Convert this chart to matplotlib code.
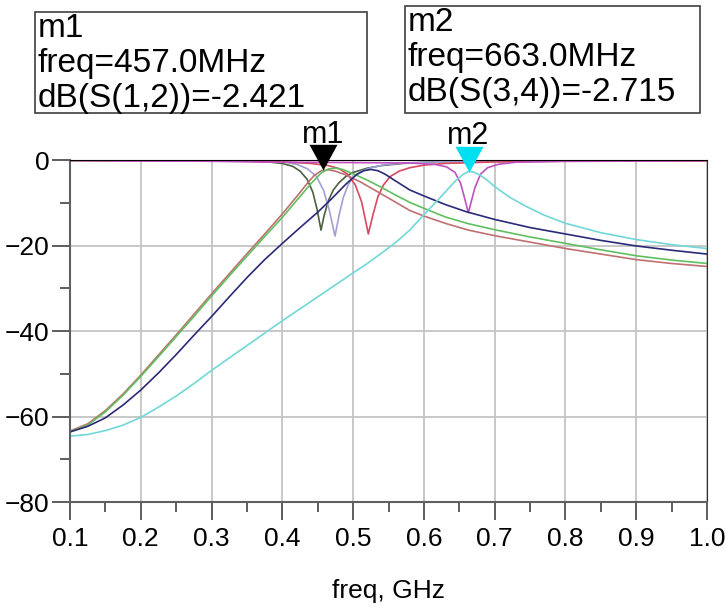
import matplotlib.pyplot as plt
from matplotlib.ticker import MultipleLocator
from matplotlib.patches import Rectangle

plt.rcParams['font.family'] = ['Liberation Sans', 'DejaVu Sans']

# transmission curves (dB vs GHz)
brown_f = [0.10, 0.125, 0.15, 0.175, 0.20, 0.225, 0.25, 0.275, 0.30, 0.325, 0.35, 0.375, 0.40,
           0.42, 0.435, 0.445, 0.455, 0.465, 0.475, 0.49, 0.51, 0.53, 0.55, 0.58, 0.60, 0.63,
           0.663, 0.70, 0.75, 0.80, 0.85, 0.90, 0.95, 1.00]
brown_db = [-63.4, -61.7, -58.6, -54.7, -50.3, -45.6, -40.9, -36.1, -31.3, -26.6, -21.9, -17.3, -12.6,
            -8.6, -5.5, -3.6, -2.5, -2.3, -2.6, -3.5, -5.1, -7.0, -8.9, -11.8, -13.1, -14.8,
            -16.4, -17.7, -19.2, -20.7, -22.0, -23.3, -24.2, -24.9]

green_f = [0.10, 0.125, 0.15, 0.175, 0.20, 0.225, 0.25, 0.275, 0.30, 0.325, 0.35, 0.375, 0.40,
           0.42, 0.44, 0.455, 0.465, 0.475, 0.485, 0.50, 0.52, 0.54, 0.56, 0.58, 0.60, 0.63,
           0.663, 0.70, 0.75, 0.80, 0.85, 0.90, 0.95, 1.00]
green_db = [-63.6, -62.0, -58.9, -55.0, -50.6, -46.0, -41.3, -36.6, -31.8, -27.1, -22.5, -17.9, -13.4,
            -9.5, -5.6, -3.0, -2.1, -1.9, -2.2, -3.2, -4.7, -6.4, -8.2, -9.9, -11.3, -13.3,
            -14.9, -16.3, -18.0, -19.5, -21.0, -22.4, -23.4, -24.2]

navy_f = [0.10, 0.125, 0.15, 0.175, 0.20, 0.225, 0.25, 0.275, 0.30, 0.325, 0.35, 0.375, 0.40,
          0.425, 0.45, 0.47, 0.49, 0.505, 0.515, 0.525, 0.535, 0.545, 0.56, 0.58, 0.60, 0.63,
          0.66, 0.70, 0.75, 0.80, 0.85, 0.90, 0.95, 1.00]
navy_db = [-63.6, -62.3, -60.3, -57.3, -53.8, -49.8, -45.5, -41.0, -36.6, -32.0, -27.5, -23.3, -19.5,
           -15.8, -12.2, -9.0, -5.6, -3.4, -2.5, -2.2, -2.5, -3.3, -4.9, -7.0, -8.4, -10.4,
           -12.1, -13.9, -15.8, -17.3, -18.8, -20.1, -21.1, -22.0]

cyan_f = [0.10, 0.125, 0.15, 0.175, 0.20, 0.225, 0.25, 0.275, 0.30, 0.325, 0.35, 0.375, 0.40,
          0.425, 0.45, 0.475, 0.50, 0.52, 0.54, 0.56, 0.58, 0.60, 0.62, 0.635, 0.645, 0.655,
          0.663, 0.67, 0.68, 0.69, 0.70, 0.72, 0.745, 0.77, 0.80, 0.85, 0.90, 0.95, 1.00]
cyan_db = [-64.6, -64.2, -63.3, -62.0, -60.2, -57.8, -55.2, -52.3, -49.2, -46.3, -43.4, -40.5, -37.6,
           -34.8, -32.0, -29.2, -26.4, -24.2, -21.8, -19.3, -16.4, -12.8, -9.3, -6.6, -4.8, -3.4,
           -2.7, -2.8, -3.6, -4.8, -6.2, -8.6, -10.9, -12.9, -14.8, -17.0, -18.6, -19.8, -20.7]

# reflection curves
olive_f = [0.10, 0.30, 0.35, 0.38, 0.40, 0.415, 0.425, 0.435, 0.443, 0.449, 0.4546, 0.459, 0.465,
           0.472, 0.48, 0.49, 0.50, 0.52, 0.54, 0.57, 0.62, 0.70, 1.00]
olive_db = [-0.1, -0.15, -0.25, -0.45, -0.8, -1.5, -2.6, -4.5, -7.5, -11.5, -16.4, -13.0, -9.5,
            -7.0, -5.3, -3.8, -2.9, -1.9, -1.3, -0.8, -0.4, -0.25, -0.15]

lav_f = [0.10, 0.35, 0.40, 0.42, 0.435, 0.448, 0.458, 0.466, 0.4744, 0.480, 0.486, 0.493, 0.50,
         0.51, 0.525, 0.545, 0.57, 0.62, 1.00]
lav_db = [-0.1, -0.2, -0.4, -1.0, -2.0, -3.8, -7.0, -11.5, -17.8, -13.0, -8.8, -5.8, -4.0,
          -2.7, -1.8, -1.1, -0.7, -0.4, -0.2]

red_f = [0.10, 0.30, 0.40, 0.44, 0.465, 0.48, 0.492, 0.503, 0.512, 0.5215, 0.528, 0.535, 0.543,
         0.552, 0.565, 0.58, 0.60, 0.63, 0.70, 0.80, 1.00]
red_db = [-0.1, -0.2, -0.45, -0.8, -1.3, -2.0, -3.3, -5.8, -9.8, -17.3, -12.8, -8.6, -5.8,
          -3.9, -2.6, -1.8, -1.2, -0.8, -0.45, -0.3, -0.2]

mag_f = [0.10, 0.30, 0.40, 0.50, 0.58, 0.615, 0.632, 0.644, 0.652, 0.6628, 0.672, 0.68, 0.69,
         0.705, 0.73, 0.80, 1.00]
mag_db = [-0.1, -0.3, -0.5, -0.6, -0.7, -1.0, -1.6, -2.9, -5.5, -12.3, -6.5, -3.3, -1.8,
          -1.0, -0.5, -0.25, -0.15]

m1 = (0.457, -2.421)
m2 = (0.663, -2.715)
m1_text = 'm1\nfreq=457.0MHz\ndB(S(1,2))=-2.421'
m2_text = 'm2\nfreq=663.0MHz\ndB(S(3,4))=-2.715'

fig = plt.figure(figsize=(7.25, 6.08), dpi=100)
ax = fig.add_axes([0.0966, 0.1743, 0.8786, 0.5625])

lw = 1.2
ax.plot(olive_f, olive_db, color='#4a6040', lw=lw)
ax.plot(lav_f, lav_db, color='#a0a0d8', lw=lw)
ax.plot(red_f, red_db, color='#d84860', lw=lw)
ax.plot(mag_f, mag_db, color='#c050c0', lw=lw)
ax.plot(brown_f, brown_db, color='#c07070', lw=lw)
ax.plot(green_f, green_db, color='#60c060', lw=lw)
ax.plot(navy_f, navy_db, color='#2a2a78', lw=lw)
ax.plot(cyan_f, cyan_db, color='#70d8d8', lw=lw)

# marker triangles with the tip on the point
tri = [(-12, 22), (12, 22), (0, 0)]
ax.plot(*m1, marker=tri, ms=37, color='black', mew=0, clip_on=False, zorder=5)
ax.plot(*m2, marker=tri, ms=37, color='#00e0f0', mew=0, clip_on=False, zorder=5)
for m, name in [(m1, 'm1'), (m2, 'm2')]:
    ax.annotate(name, xy=m, xytext=(0, 20), textcoords='offset points',
                ha='center', va='baseline', fontsize=22)

ax.set_xlim(0.1, 1.0)
ax.set_ylim(-80, 0)
ax.xaxis.set_major_locator(MultipleLocator(0.1))
ax.xaxis.set_minor_locator(MultipleLocator(0.05))
ax.yaxis.set_major_locator(MultipleLocator(20))
ax.yaxis.set_minor_locator(MultipleLocator(10))
ax.set_xticklabels([f'{v:.1f}' for v in ax.get_xticks()])
ax.grid(True, which='major', color='#c4c4c4', lw=1.3)
ax.tick_params(which='major', direction='out', length=13, width=1.3, color='#505050',
               labelsize=19, pad=2)
ax.tick_params(which='minor', direction='out', length=7, width=1.3, color='#505050')
ax.tick_params(axis='x', which='major', pad=5)
for s in ['left', 'bottom']:
    ax.spines[s].set_color('#606060')
    ax.spines[s].set_linewidth(1.5)
ax.spines['top'].set_color('black')
ax.spines['right'].set_color('#303030')
ax.set_xlabel('freq, GHz', fontsize=19, labelpad=20)

# marker readout boxes
W, H = 725, 608
for (x0, y0, x1, y1), txt in [((35, 12, 367, 113), m1_text), ((405, 6, 700, 113), m2_text)]:
    fig.patches.append(Rectangle((x0 / W, 1 - y1 / H), (x1 - x0) / W, (y1 - y0) / H,
                                 transform=fig.transFigure, fc='white', ec='#404040', lw=1.2))
    fig.text((x0 + 3) / W, 1 - (y0 + 1) / H, txt, fontsize=24, ha='left', va='top',
             linespacing=1.17)

fig.savefig('out.png', dpi=100)
